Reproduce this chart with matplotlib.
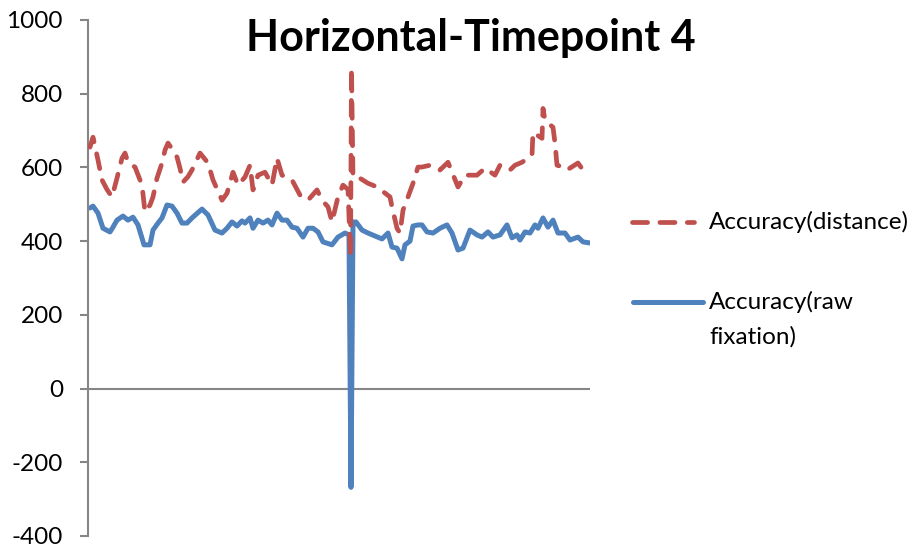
import matplotlib
matplotlib.use("Agg")
import matplotlib.pyplot as plt
from matplotlib.lines import Line2D

plt.rcParams['font.family'] = ['Lato', 'DejaVu Sans']
plt.rcParams['axes.unicode_minus'] = False

# sample positions (time axis) and values
raw_t = [0, 3, 8, 13, 20, 23, 27, 33, 38, 43, 48, 54, 60, 63, 68, 72, 77, 82, 87, 92,
         97, 102, 112, 118, 125, 132, 137, 142, 147, 152, 155, 160, 163, 168, 173, 178,
         182, 187, 192, 197, 202, 207, 213, 218, 223, 228, 233, 242, 248, 255, 259, 261,
         263, 266, 272, 278, 285, 292, 298, 302, 307, 312, 315, 320, 323, 328, 332, 337,
         343, 350, 357, 362, 368, 373, 380, 387, 392, 398, 403, 410, 417, 422, 427, 430,
         435, 440, 445, 448, 453, 458, 463, 468, 475, 480, 488, 493, 500]
raw_fix = [490, 495, 476, 435, 425, 438, 457, 468, 457, 465, 444, 390, 390, 430, 449, 463,
           498, 495, 476, 449, 449, 463, 487, 471, 430, 422, 435, 452, 441, 455, 449, 463,
           435, 457, 449, 457, 444, 476, 457, 457, 438, 435, 411, 435, 435, 425, 398, 390,
           411, 422, 417, -268, 452, 452, 430, 422, 414, 406, 422, 384, 381, 352, 390, 400,
           441, 444, 444, 425, 422, 435, 444, 422, 376, 381, 430, 417, 411, 425, 411, 417,
           444, 409, 417, 403, 425, 422, 444, 435, 463, 438, 457, 422, 422, 403, 411, 398, 395]

dist_t = [0, 3, 8, 12, 17, 22, 27, 32, 35, 38, 45, 52, 55, 60, 63, 67, 72, 75, 78, 83,
          87, 90, 93, 98, 102, 110, 118, 123, 132, 137, 143, 148, 155, 160, 163, 168, 175,
          182, 187, 192, 202, 210, 218, 227, 232, 238, 242, 248, 253, 258, 260.5, 261.5,
          263, 268, 278, 287, 300, 302, 307, 310, 313, 318, 323, 328, 332, 340, 350, 358,
          368, 375, 387, 395, 405, 410, 420, 425, 432, 442, 443, 452, 453, 455, 463, 465,
          467, 473, 477, 488, 493, 495]
dist = [655, 682, 620, 566, 540, 520, 571, 625, 639, 614, 601, 552, 479, 498, 520, 571,
        612, 647, 666, 647, 628, 598, 560, 575, 593, 639, 612, 566, 511, 530, 587, 552,
        574, 606, 539, 579, 587, 552, 625, 579, 566, 525, 511, 539, 511, 493, 452, 520,
        552, 540, 357, 869, 574, 574, 557, 547, 520, 493, 435, 422, 484, 520, 557, 601,
        601, 606, 593, 614, 547, 579, 579, 598, 579, 606, 593, 606, 614, 633, 695, 679,
        760, 728, 709, 666, 606, 601, 593, 612, 593, 598]

yticks = [-400, -200, 0, 200, 400, 600, 800, 1000]
title = "Horizontal-Timepoint 4"
labels = ["Accuracy(distance)", "Accuracy(raw\nfixation)"]

RED = "#C0504D"
BLUE = "#4F81BD"
GRAY = "#868686"

fig = plt.figure(figsize=(9.16, 5.52), dpi=100)
ax = fig.add_axes([88 / 916, (552 - 536) / 552, 502 / 916, 516 / 552])

ax.plot(raw_t, raw_fix, color=BLUE, lw=3.6, solid_capstyle='round', solid_joinstyle='round',
        zorder=2)
ax.plot(dist_t, dist, color=RED, lw=3.4, dashes=(3.2, 2.6), dash_capstyle='round',
        dash_joinstyle='round', zorder=3)

ax.axhline(0, color=GRAY, lw=1.5, zorder=0)
ax.set_xlim(-2, 500)
ax.set_ylim(-400, 1000)
ax.set_yticks(yticks)
ax.set_xticks([])
for s in ['top', 'right', 'bottom']:
    ax.spines[s].set_visible(False)
ax.spines['left'].set_color(GRAY)
ax.spines['left'].set_linewidth(1.5)
ax.tick_params(axis='y', direction='out', length=6, width=1.5, color=GRAY,
               labelsize=17.5, pad=12, labelcolor='black')

fig.text(471 / 916, 1 - 38 / 552, title, ha='center', va='center',
         fontsize=31, fontweight='bold')

# legend
fig.add_artist(Line2D([632 / 916, 694 / 916], [1 - 222 / 552] * 2, color=RED, lw=3.4,
                      dashes=(3.2, 2.6), dash_capstyle='round', transform=fig.transFigure))
fig.add_artist(Line2D([633 / 916, 703 / 916], [1 - 302 / 552] * 2, color=BLUE, lw=3.6,
                      solid_capstyle='round', transform=fig.transFigure))
fig.text(709 / 916, 1 - 222 / 552, labels[0], ha='left', va='center', fontsize=17.5)
fig.text(709 / 916, 1 - 302 / 552, labels[1].split("\n")[0], ha='left', va='center', fontsize=17.5)
fig.text(709 / 916, 1 - 337 / 552, labels[1].split("\n")[1], ha='left', va='center', fontsize=17.5)

fig.savefig("out.png", dpi=100)
